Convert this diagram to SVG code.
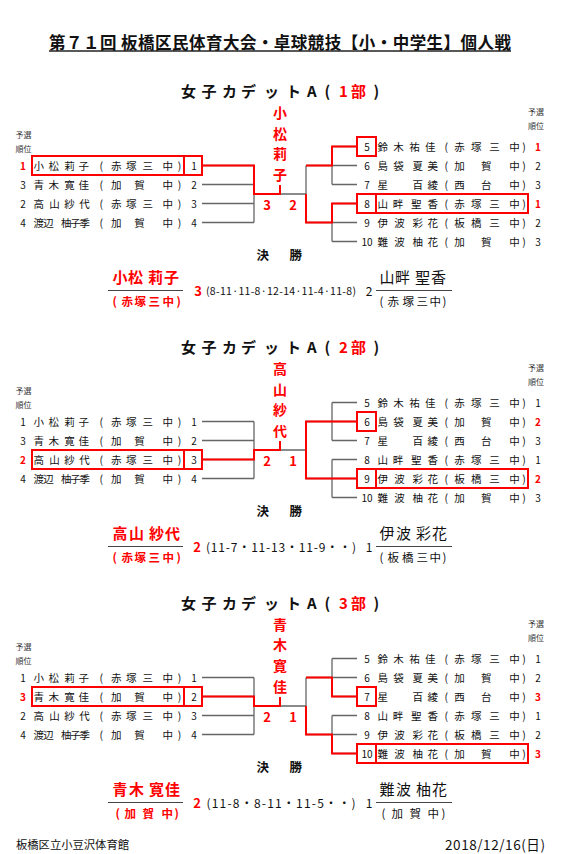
<svg xmlns="http://www.w3.org/2000/svg" width="561" height="854" viewBox="0 0 561 854">
<style>
text{font-family:"Noto Sans CJK JP","Noto Sans",sans-serif;dominant-baseline:central;fill:#111}
.nm{font-size:10.5px}
.n{font-size:10px}
.c{text-anchor:middle}
.sm{font-size:8px;fill:#333}
.r{fill:#f00}
.b{font-weight:bold}
.vn{font-size:14px;font-weight:bold;fill:#f00;text-anchor:middle}
.ttl{font-size:15px;font-weight:bold}
.fn{font-size:15px}
.fs{font-size:11.5px}
.sc{font-size:13px;font-weight:bold;fill:#f00;text-anchor:middle}
.ln{stroke:#666;stroke-width:1.3;fill:none}
.rl{stroke:#f00;stroke-width:2;fill:none}
.bx{stroke:#f00;stroke-width:2;fill:none}
.ul{stroke:#444;stroke-width:1}
</style>
<rect width="561" height="854" fill="#fff"/>
<g id="title">
<text x="49" y="41.5" font-size="16.5" font-weight="bold" textLength="462" lengthAdjust="spacing">第７１回 板橋区民体育大会・卓球競技【小・中学生】個人戦</text>
<line x1="49" y1="51" x2="511" y2="51" stroke="#222" stroke-width="1.3"/>
</g>

<!-- ================= SECTION 1 ================= -->
<g id="sec1">
<g id="s1-connectors">
<path class="ln" d="M202,165.5H254M202,184.5H254M202,203.5H254M202,222.5H254M254,165.5V222.5M254,194H306M306,165.5V222.5M306,165.5H357M306,222.5H357M332,146.5V184.5M332,203.5V241.5M332,146.5H357M332,184.5H357M332,203.5H357M332,241.5H357"/>
<path class="rl" d="M202,165.5H254V194H280V185M357,146.5H332V165.5H306M357,203.5H332V222.5H306V194"/>
</g>
<g id="s1-head">
<text class="ttl" y="90"><tspan x="181 201.5 222 241 264 286 307 324.5">女子カデットA(</tspan><tspan class="r" x="339 351">1部</tspan><tspan x="373.5">)</tspan></text>
<text class="sm" x="15.5" y="134">予選</text><text class="sm" x="15.5" y="148">順位</text>
<text class="sm" x="528" y="111">予選</text><text class="sm" x="528" y="125">順位</text>
</g>
<g id="s1-winner">
<text class="vn" x="280" y="112">小</text><text class="vn" x="280" y="132.5">松</text><text class="vn" x="280" y="153">莉</text><text class="vn" x="280" y="173.5">子</text>
<text class="sc" x="267" y="204">3</text><text class="sc" x="293" y="204">2</text>
</g>
<g id="s1-p1"><rect class="bx" x="32" y="156" width="152" height="19"/><rect class="bx" x="184" y="156" width="18" height="19"/>
<text class="n c r b" x="23" y="165.5">1</text><text class="nm" x="33.5 48.5 64.2 78.5" y="165.5">小松莉子</text><text class="nm" x="99.5 111 126 142.5 162.5 177.8" y="165.5">(赤塚三中)</text><text class="n c" x="194" y="165.5">1</text></g>
<g id="s1-p2"><text class="n c" x="23" y="184.5">3</text><text class="nm" x="33.5 48.5 64.2 78.5" y="184.5">青木寛佳</text><text class="nm" x="99.5 111 134.2 162.5 177.8" y="184.5">(加賀中)</text><text class="n c" x="194" y="184.5">2</text></g>
<g id="s1-p3"><text class="n c" x="23" y="203.5">2</text><text class="nm" x="33.5 49.2 64.2 79.2" y="203.5">高山紗代</text><text class="nm" x="99.5 111 126 142.5 162.5 177.8" y="203.5">(赤塚三中)</text><text class="n c" x="194" y="203.5">3</text></g>
<g id="s1-p4"><text class="n c" x="23" y="222.5">4</text><text class="nm" x="33.5 43.3 61 70.3 79.5" y="222.5">渡辺柚子季</text><text class="nm" x="99.5 111 134.2 162.5 177.8" y="222.5">(加賀中)</text><text class="n c" x="194" y="222.5">4</text></g>
<g id="s1-p5"><rect class="bx" x="357" y="137" width="19" height="19"/>
<text class="n c" x="367" y="146.5">5</text><text class="nm" x="377.5 393.2 409.2 425" y="146.5">鈴木祐佳</text><text class="nm" x="444.5 454.2 471 489.2 509.2 522.2" y="146.5">(赤塚三中)</text><text class="n c r b" x="538" y="146.5">1</text></g>
<g id="s1-p6"><text class="n c" x="367" y="165.5">6</text><text class="nm" x="377.5 393.2 412.5 427.5" y="165.5">島袋夏美</text><text class="nm" x="444.5 454.2 481 509.2 522.2" y="165.5">(加賀中)</text><text class="n c" x="538" y="165.5">2</text></g>
<g id="s1-p7"><text class="n c" x="367" y="184.5">7</text><text class="nm" x="377.5 412.5 427.5" y="184.5">星百綾</text><text class="nm" x="444.5 454.2 481 509.2 522.2" y="184.5">(西台中)</text><text class="n c" x="538" y="184.5">3</text></g>
<g id="s1-p8"><rect class="bx" x="357" y="194" width="19" height="19"/><rect class="bx" x="376" y="194" width="152" height="19"/>
<text class="n c" x="367" y="203.5">8</text><text class="nm" x="377.5 392.8 411 427.5" y="203.5">山畔聖香</text><text class="nm" x="444.5 454.2 471 489.2 509.2 522.2" y="203.5">(赤塚三中)</text><text class="n c r b" x="538" y="203.5">1</text></g>
<g id="s1-p9"><text class="n c" x="367" y="222.5">9</text><text class="nm" x="377.5 394.2 412.5 427.5" y="222.5">伊波彩花</text><text class="nm" x="444.5 454.2 471 489.2 509.2 522.2" y="222.5">(板橋三中)</text><text class="n c" x="538" y="222.5">2</text></g>
<g id="s1-p10"><text class="n c" x="367" y="241.5">10</text><text class="nm" x="377.5 394.2 412.5 427.5" y="241.5">難波柚花</text><text class="nm" x="444.5 454.2 481 509.2 522.2" y="241.5">(加賀中)</text><text class="n c" x="538" y="241.5">3</text></g>
<g id="s1-final">
<text class="b" font-size="12.5" x="256.5 289.5" y="254">決勝</text>
<text class="fn b r" x="112.5 128 148 164" y="276">小松莉子</text>
<line class="ul" x1="108" y1="290.5" x2="183" y2="290.5"/>
<text class="fs b r" x="112.5 121.5 134.5 148.5 162.5 176.5" y="300.5">(赤塚三中)</text>
<text class="sc" x="198" y="290.5">3</text>
<text x="281" y="290.5" font-size="10.5" text-anchor="middle" textLength="150" lengthAdjust="spacing">(8-11·11-8·12-14·11-4·11-8)</text>
<text x="369" y="290.5" font-size="12" text-anchor="middle">2</text>
<text class="fn" x="379.5 395 415 431" y="276">山畔聖香</text>
<line class="ul" x1="376" y1="290.5" x2="452" y2="290.5"/>
<text class="fs" x="379.5 387.5 402.5 416.5 429.5 442.5" y="300.5">(赤塚三中)</text>
</g>
</g>

<!-- ================= SECTION 2 ================= -->
<g id="sec2" transform="translate(0,256)">
<g id="s2-connectors">
<path class="ln" d="M202,165.5H254M202,184.5H254M202,203.5H254M202,222.5H254M254,165.5V222.5M254,194H306M306,165.5V222.5M306,165.5H357M306,222.5H357M332,146.5V184.5M332,203.5V241.5M332,146.5H357M332,184.5H357M332,203.5H357M332,241.5H357"/>
<path class="rl" d="M202,203.5H254V194H280V185M357,165.5H306V222.5H357"/>
</g>
<g id="s2-head">
<text class="ttl" y="90"><tspan x="181 201.5 222 241 264 286 307 324.5">女子カデットA(</tspan><tspan class="r" x="339 351">2部</tspan><tspan x="373.5">)</tspan></text>
<text class="sm" x="15.5" y="134">予選</text><text class="sm" x="15.5" y="148">順位</text>
<text class="sm" x="528" y="111">予選</text><text class="sm" x="528" y="125">順位</text>
</g>
<g id="s2-winner">
<text class="vn" x="280" y="112">高</text><text class="vn" x="280" y="132.5">山</text><text class="vn" x="280" y="153">紗</text><text class="vn" x="280" y="173.5">代</text>
<text class="sc" x="267" y="204">2</text><text class="sc" x="293" y="204">1</text>
</g>
<g id="s2-p1"><text class="n c" x="23" y="165.5">1</text><text class="nm" x="33.5 48.5 64.2 78.5" y="165.5">小松莉子</text><text class="nm" x="99.5 111 126 142.5 162.5 177.8" y="165.5">(赤塚三中)</text><text class="n c" x="194" y="165.5">1</text></g>
<g id="s2-p2"><text class="n c" x="23" y="184.5">3</text><text class="nm" x="33.5 48.5 64.2 78.5" y="184.5">青木寛佳</text><text class="nm" x="99.5 111 134.2 162.5 177.8" y="184.5">(加賀中)</text><text class="n c" x="194" y="184.5">2</text></g>
<g id="s2-p3"><rect class="bx" x="32" y="194" width="152" height="19"/><rect class="bx" x="184" y="194" width="18" height="19"/>
<text class="n c r b" x="23" y="203.5">2</text><text class="nm" x="33.5 49.2 64.2 79.2" y="203.5">高山紗代</text><text class="nm" x="99.5 111 126 142.5 162.5 177.8" y="203.5">(赤塚三中)</text><text class="n c" x="194" y="203.5">3</text></g>
<g id="s2-p4"><text class="n c" x="23" y="222.5">4</text><text class="nm" x="33.5 43.3 61 70.3 79.5" y="222.5">渡辺柚子季</text><text class="nm" x="99.5 111 134.2 162.5 177.8" y="222.5">(加賀中)</text><text class="n c" x="194" y="222.5">4</text></g>
<g id="s2-p5"><text class="n c" x="367" y="146.5">5</text><text class="nm" x="377.5 393.2 409.2 425" y="146.5">鈴木祐佳</text><text class="nm" x="444.5 454.2 471 489.2 509.2 522.2" y="146.5">(赤塚三中)</text><text class="n c" x="538" y="146.5">1</text></g>
<g id="s2-p6"><rect class="bx" x="357" y="156" width="19" height="19"/>
<text class="n c" x="367" y="165.5">6</text><text class="nm" x="377.5 393.2 412.5 427.5" y="165.5">島袋夏美</text><text class="nm" x="444.5 454.2 481 509.2 522.2" y="165.5">(加賀中)</text><text class="n c r b" x="538" y="165.5">2</text></g>
<g id="s2-p7"><text class="n c" x="367" y="184.5">7</text><text class="nm" x="377.5 412.5 427.5" y="184.5">星百綾</text><text class="nm" x="444.5 454.2 481 509.2 522.2" y="184.5">(西台中)</text><text class="n c" x="538" y="184.5">3</text></g>
<g id="s2-p8"><text class="n c" x="367" y="203.5">8</text><text class="nm" x="377.5 392.8 411 427.5" y="203.5">山畔聖香</text><text class="nm" x="444.5 454.2 471 489.2 509.2 522.2" y="203.5">(赤塚三中)</text><text class="n c" x="538" y="203.5">1</text></g>
<g id="s2-p9"><rect class="bx" x="357" y="213" width="19" height="19"/><rect class="bx" x="376" y="213" width="152" height="19"/>
<text class="n c" x="367" y="222.5">9</text><text class="nm" x="377.5 394.2 412.5 427.5" y="222.5">伊波彩花</text><text class="nm" x="444.5 454.2 471 489.2 509.2 522.2" y="222.5">(板橋三中)</text><text class="n c r b" x="538" y="222.5">2</text></g>
<g id="s2-p10"><text class="n c" x="367" y="241.5">10</text><text class="nm" x="377.5 394.2 412.5 427.5" y="241.5">難波柚花</text><text class="nm" x="444.5 454.2 481 509.2 522.2" y="241.5">(加賀中)</text><text class="n c" x="538" y="241.5">3</text></g>
<g id="s2-final">
<text class="b" font-size="12.5" x="256.5 289.5" y="254">決勝</text>
<text class="fn b r" x="112.5 129 149 165" y="276">高山紗代</text>
<line class="ul" x1="108" y1="290.5" x2="183" y2="290.5"/>
<text class="fs b r" x="112.5 121.5 134.5 148.5 162.5 176.5" y="300.5">(赤塚三中)</text>
<text class="sc" x="197" y="290.5">2</text>
<text x="281" y="290.5" font-size="12" text-anchor="middle" textLength="150" lengthAdjust="spacing">(11-7・11-13・11-9・・)</text>
<text x="369" y="290.5" font-size="12" text-anchor="middle">1</text>
<text class="fn" x="379.5 396 416 432" y="276">伊波彩花</text>
<line class="ul" x1="376" y1="290.5" x2="452" y2="290.5"/>
<text class="fs" x="379.5 387.5 402 416.5 429.5 442.5" y="300.5">(板橋三中)</text>
</g>
</g>

<!-- ================= SECTION 3 ================= -->
<g id="sec3" transform="translate(0,512)">
<g id="s3-connectors">
<path class="ln" d="M202,165.5H254M202,184.5H254M202,203.5H254M202,222.5H254M254,165.5V222.5M254,194H306M306,165.5V222.5M306,165.5H357M306,222.5H357M332,146.5V184.5M332,203.5V241.5M332,146.5H357M332,184.5H357M332,203.5H357M332,241.5H357"/>
<path class="rl" d="M202,184.5H254V194H280V185M357,184.5H332V165.5H306M357,241.5H332V222.5H306V194"/>
</g>
<g id="s3-head">
<text class="ttl" y="90"><tspan x="181 201.5 222 241 264 286 307 324.5">女子カデットA(</tspan><tspan class="r" x="339 351">3部</tspan><tspan x="373.5">)</tspan></text>
<text class="sm" x="15.5" y="134">予選</text><text class="sm" x="15.5" y="148">順位</text>
<text class="sm" x="528" y="111">予選</text><text class="sm" x="528" y="125">順位</text>
</g>
<g id="s3-winner">
<text class="vn" x="280" y="111.5">青</text><text class="vn" x="280" y="132">木</text><text class="vn" x="280" y="152.5">寛</text><text class="vn" x="280" y="173.5">佳</text>
<text class="sc" x="267" y="204">2</text><text class="sc" x="293" y="204">1</text>
</g>
<g id="s3-p1"><text class="n c" x="23" y="165.5">1</text><text class="nm" x="33.5 48.5 64.2 78.5" y="165.5">小松莉子</text><text class="nm" x="99.5 111 126 142.5 162.5 177.8" y="165.5">(赤塚三中)</text><text class="n c" x="194" y="165.5">1</text></g>
<g id="s3-p2"><rect class="bx" x="32" y="175" width="152" height="19"/><rect class="bx" x="184" y="175" width="18" height="19"/>
<text class="n c r b" x="23" y="184.5">3</text><text class="nm" x="33.5 48.5 64.2 78.5" y="184.5">青木寛佳</text><text class="nm" x="99.5 111 134.2 162.5 177.8" y="184.5">(加賀中)</text><text class="n c" x="194" y="184.5">2</text></g>
<g id="s3-p3"><text class="n c" x="23" y="203.5">2</text><text class="nm" x="33.5 49.2 64.2 79.2" y="203.5">高山紗代</text><text class="nm" x="99.5 111 126 142.5 162.5 177.8" y="203.5">(赤塚三中)</text><text class="n c" x="194" y="203.5">3</text></g>
<g id="s3-p4"><text class="n c" x="23" y="222.5">4</text><text class="nm" x="33.5 43.3 61 70.3 79.5" y="222.5">渡辺柚子季</text><text class="nm" x="99.5 111 134.2 162.5 177.8" y="222.5">(加賀中)</text><text class="n c" x="194" y="222.5">4</text></g>
<g id="s3-p5"><text class="n c" x="367" y="146.5">5</text><text class="nm" x="377.5 393.2 409.2 425" y="146.5">鈴木祐佳</text><text class="nm" x="444.5 454.2 471 489.2 509.2 522.2" y="146.5">(赤塚三中)</text><text class="n c" x="538" y="146.5">1</text></g>
<g id="s3-p6"><text class="n c" x="367" y="165.5">6</text><text class="nm" x="377.5 393.2 412.5 427.5" y="165.5">島袋夏美</text><text class="nm" x="444.5 454.2 481 509.2 522.2" y="165.5">(加賀中)</text><text class="n c" x="538" y="165.5">2</text></g>
<g id="s3-p7"><rect class="bx" x="357" y="175" width="19" height="19"/>
<text class="n c" x="367" y="184.5">7</text><text class="nm" x="377.5 412.5 427.5" y="184.5">星百綾</text><text class="nm" x="444.5 454.2 481 509.2 522.2" y="184.5">(西台中)</text><text class="n c r b" x="538" y="184.5">3</text></g>
<g id="s3-p8"><text class="n c" x="367" y="203.5">8</text><text class="nm" x="377.5 392.8 411 427.5" y="203.5">山畔聖香</text><text class="nm" x="444.5 454.2 471 489.2 509.2 522.2" y="203.5">(赤塚三中)</text><text class="n c" x="538" y="203.5">1</text></g>
<g id="s3-p9"><text class="n c" x="367" y="222.5">9</text><text class="nm" x="377.5 394.2 412.5 427.5" y="222.5">伊波彩花</text><text class="nm" x="444.5 454.2 471 489.2 509.2 522.2" y="222.5">(板橋三中)</text><text class="n c" x="538" y="222.5">2</text></g>
<g id="s3-p10"><rect class="bx" x="357" y="232" width="19" height="19"/><rect class="bx" x="376" y="232" width="152" height="19"/>
<text class="n c" x="367" y="241.5">10</text><text class="nm" x="377.5 394.2 412.5 427.5" y="241.5">難波柚花</text><text class="nm" x="444.5 454.2 481 509.2 522.2" y="241.5">(加賀中)</text><text class="n c r b" x="538" y="241.5">3</text></g>
<g id="s3-final">
<text class="b" font-size="12.5" x="256.5 289.5" y="254">決勝</text>
<text class="fn b r" x="112.5 129 149 165" y="276">青木寛佳</text>
<line class="ul" x1="108" y1="290.5" x2="183" y2="290.5"/>
<text class="fs b r" x="115.5 124.5 142.5 161.5 174.5" y="300.5">(加賀中)</text>
<text class="sc" x="197" y="290.5">2</text>
<text x="281" y="290.5" font-size="12" text-anchor="middle" textLength="149" lengthAdjust="spacing">(11-8・8-11・11-5・・)</text>
<text x="369" y="290.5" font-size="12" text-anchor="middle">1</text>
<text class="fn" x="379.5 396 416 432" y="276">難波柚花</text>
<line class="ul" x1="376" y1="290.5" x2="452" y2="290.5"/>
<text class="fs" x="381.5 391.5 409.5 427.5 441.5" y="300.5">(加賀中)</text>
</g>
</g>

<g id="footer">
<text x="16" y="844" font-size="11.3" textLength="113" lengthAdjust="spacing">板橋区立小豆沢体育館</text>
<text x="445" y="844" font-size="13.5" textLength="100" lengthAdjust="spacing">2018/12/16(日)</text>
</g>
</svg>
